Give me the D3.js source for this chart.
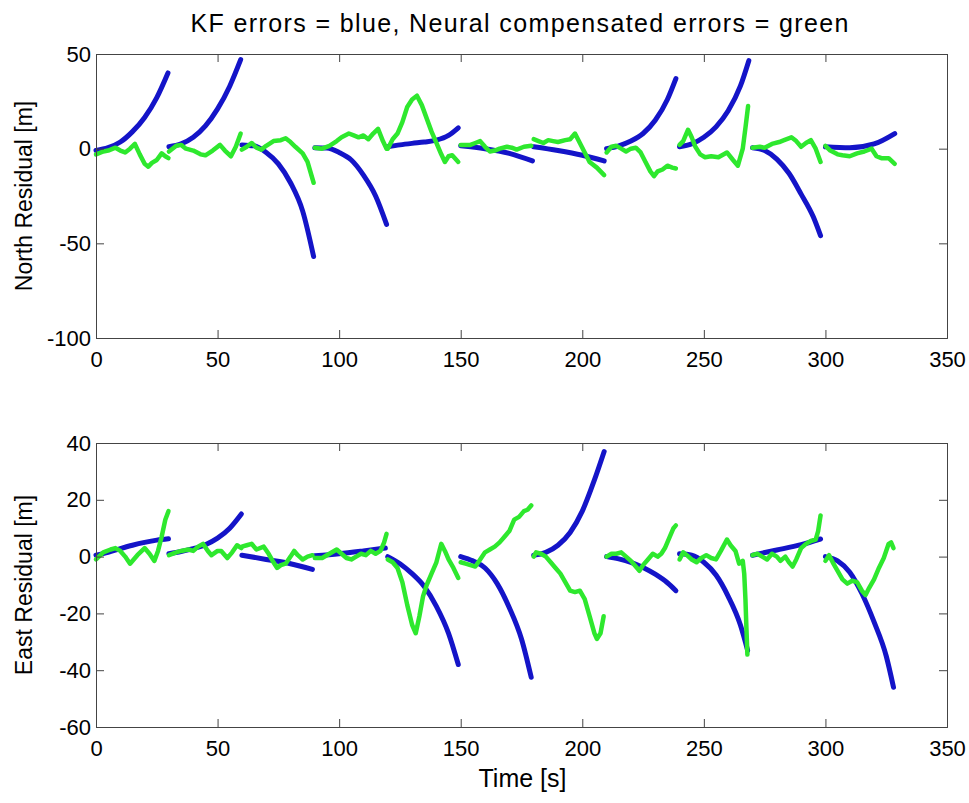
<!DOCTYPE html>
<html>
<head>
<meta charset="utf-8">
<script src="https://cdn.jsdelivr.net/npm/d3@7"></script>
<style>
  body { margin: 0; background: #fff; }
  text { font-family: "Liberation Sans", Arial, sans-serif; fill: #000; }
</style>
</head>
<body>
<div id="chart"></div>
<script>
// Each series is a list of 30 s segments, each segment a list of [time, residual] pairs
const northKF = [
  [[0,-1],[5,0.5],[10,3.5],[15,9],[20,16.5],[25,27],[29.6,40]],
  [[30,1],[35,2.5],[40,6],[45,12],[50,21],[55,33],[59.5,47]],
  [[60,2],[65,1.5],[70,-2],[75,-8],[80,-18],[85,-33],[89.5,-57]],
  [[90,0.5],[95,0.3],[100,-2],[105,-6],[110,-14],[115,-25],[119.5,-40]],
  [[120,1],[125,2],[130,2.8],[135,3.5],[140,4.5],[145,7],[149,11]],
  [[150,1.5],[160,0],[170,-2.5],[179.5,-6.5]],
  [[180,1],[190,-1],[200,-3.5],[209,-6.5]],
  [[210,0],[215,1.5],[220,4],[225,8],[230,15],[235,26],[238.5,37]],
  [[240,1],[245,2.5],[250,6],[255,11.5],[260,20],[265,33],[268.5,46.5]],
  [[270,0.5],[275,-1],[280,-5.5],[285,-13],[290,-24],[295,-36],[298,-46]],
  [[300,1],[310,0.5],[320,2.5],[328.5,8]]
];
const northNN = [
  [[0,-3],[3,-1.5],[5,-1],[8,0.5],[10,-1],[12,-2],[14,0],[16,2.5],[18,-3],[20,-8],[21.5,-9.5],[23,-7.5],[25,-6],[27,-2.5],[28.5,-4],[29.8,-5]],
  [[30,-1.5],[33,1.5],[35,2],[37,0],[40,-1],[43,-3],[45,-3.5],[48,-1],[51,2],[53,-1],[55.5,-4],[57.5,1],[59.5,8]],
  [[60,-0.5],[62,1],[64,3],[66,0.5],[68,-0.5],[70,1.5],[73,4],[76,4.5],[78,5.5],[80,3.5],[82,1],[85,-2.5],[87,-7],[89.5,-18]],
  [[90,0.5],[93,0],[96,1.5],[99,4],[101,6],[104,8],[106,7],[108,6],[110,7],[112,5],[114,8],[116,10.5],[118,4],[119.5,0]],
  [[120,0],[122,5],[124,8],[126,14],[128,22],[130,26],[132,28],[134,23],[136,16],[138,9],[140,3],[142,-3],[143.5,-7],[145,-4],[146.5,-3.5],[149,-7]],
  [[150,2],[154,2],[156,3],[158,4],[160,1],[162,-1.5],[164,-1],[166,0],[169,1],[171,0.5],[173,-0.5],[176,1],[179,1.5]],
  [[180,5],[182,4],[184,3],[186,4.5],[188,4],[190,3.5],[193,4.5],[195,5],[197,8],[199,3],[201,-2],[203,-7],[206,-10],[209,-14]],
  [[210,-2],[212,1],[214,1.5],[216,0],[218,-1.5],[220,0],[222,0.5],[224,-2],[226,-7],[228,-12],[229.5,-14.5],[231,-12],[233,-11],[235,-9],[237,-10],[238.5,-10.5]],
  [[240,2],[241.5,4],[243.5,10],[245,6],[246.5,1],[248.5,-3],[250.5,-4.5],[253,-4],[256,-4.5],[259.5,-2],[262,-6],[264,-9],[266,0],[267.2,12],[268.2,22.5]],
  [[270,0.5],[273,1],[275,0.5],[278,2.5],[281,3.5],[283,4.5],[286,6],[288,4],[290,1],[292,3],[294,4.5],[296,0],[298,-7]],
  [[300,1.5],[302,-1],[305,-3],[307,-3.5],[310,-4],[313,-2.5],[316,-1.5],[319,0],[321,-4],[323,-5],[326,-5],[328.5,-8]]
];
const eastKF = [
  [[0,0.5],[5,1.5],[10,2.8],[15,4],[20,5],[25,5.8],[29.8,6.3]],
  [[30,1],[35,1.8],[40,2.8],[45,4.2],[50,6.5],[55,10],[59.8,15]],
  [[60,0.5],[70,-1],[80,-2.5],[89,-4.5]],
  [[90,0.3],[100,1],[110,2],[119,3]],
  [[120,0],[125,-2.5],[130,-6],[135,-10.5],[140,-17.5],[145,-27],[149,-38]],
  [[150,0],[155,-1.5],[160,-4],[165,-9.5],[170,-18],[175,-29],[179,-42.5]],
  [[180,0.5],[185,1.5],[190,4],[195,8.5],[200,16],[205,27],[209,37]],
  [[210,0],[215,-0.8],[220,-2],[225,-3.8],[230,-6.2],[235,-9.2],[238.5,-12]],
  [[240,1],[245,0.5],[250,-2],[255,-6.5],[260,-14],[265,-24],[268,-33]],
  [[270,0.5],[280,2.3],[290,4.2],[298,6.2]],
  [[300,0],[305,-1.5],[310,-5.5],[315,-13],[320,-23],[325,-35],[328,-46]]
];
const eastNN = [
  [[0,-1],[3,1.5],[6,2.5],[8,3],[10,2],[12,0],[14,-2.5],[17,0.5],[20,3],[22,1],[24,-1.5],[25.5,2],[27,7],[28.5,13],[29.8,16]],
  [[30,0.5],[33,1.5],[35,2],[38,2.5],[40,2],[42,3.5],[44,4.5],[46,2],[47.5,0.5],[50,2],[51.5,2],[54,-0.5],[56,1.5],[58,4],[59.8,3]],
  [[60,3.5],[62,4],[64,4.5],[66,2.5],[69,3.5],[71,1],[73,-2],[74.5,-4],[76,-3],[78,-2.5],[80,0],[81.5,2],[83,0.5],[85,-1],[87,0],[89,0.5]],
  [[90,-0.5],[93,-0.5],[96,1],[99,2.5],[101,1],[103,-0.5],[105,-1],[107,0],[109,1],[111,0.5],[113,2],[115,1],[117,2],[118.5,5],[119.5,8]],
  [[120,-1],[122,-2],[124,-4],[126,-9],[128,-17],[130,-24],[131.5,-27],[133,-21],[134.5,-14],[136,-10],[138,-6],[140,-2],[142,4.5],[143.5,2],[145,-1],[147,-4],[149,-7.5]],
  [[150,-2],[152,-2.5],[154,-3],[156,-3.5],[158,-1],[160,1.5],[162,2.5],[164,3.5],[166,5],[168,7],[170,9],[172,13],[174,14],[176,16],[177.5,16.5],[179,18]],
  [[180,0],[181,1.5],[183,1],[185,0],[187,-2],[189,-4],[191,-6],[193,-9],[195,-12],[197,-12.5],[199,-12],[201,-15],[203,-21],[205,-27],[206,-29],[207.5,-27],[208.8,-21]],
  [[210,0],[212,1],[214,1],[216,1.5],[218,0],[220,-1.5],[222,-3.5],[223.5,-5],[225,-3],[227,-1],[229,1],[231,0],[232.5,1],[234,3],[236,7],[237.5,10],[238.5,11]],
  [[240,-1],[241.5,1.5],[243,0.5],[245,-1],[247,-2],[249,-0.5],[251,0.5],[253,-0.5],[255,-1],[257,2],[259.5,6],[261,4],[263,2],[264.5,-2.5],[266,-1.5],[266.6,-6],[267.1,-15],[267.5,-25],[267.9,-34.5]],
  [[270,0.5],[272,1],[274,0],[276,-1],[278,1],[280,0],[281.5,-1.5],[283.5,0],[285,-2],[286.5,-3.5],[288,-1],[290,3],[292,4.5],[294,5.5],[296,6],[297,9],[298,14.5]],
  [[300,-1.5],[301.5,0.5],[303,-2],[305,-5],[307,-8],[309,-9.5],[311,-8.5],[313,-9],[315,-12],[316.5,-13.5],[318,-11],[320,-8],[322,-4],[324,-0.5],[326,4.5],[327,5],[328,3]]
];

const timeTicks = [0, 50, 100, 150, 200, 250, 300, 350];
const northTicks = [50, 0, -50, -100];
const eastTicks = [40, 20, 0, -20, -40, -60];

const titleText = 'KF errors = blue, Neural compensated errors = green';

const width = 969, height = 803;
const plotLeft = 96, plotRight = 947;
const kfColor = '#1414c8', nnColor = '#2ee82e';

const svg = d3.select('#chart').append('svg')
  .attr('width', width)
  .attr('height', height);

const x = d3.scaleLinear().domain([0, 350]).range([plotLeft, plotRight]);

function drawPanel(cfg) {
  const y = d3.scaleLinear().domain(cfg.domain).range([cfg.bottom, cfg.top]);
  const g = svg.append('g');
  const h = cfg.bottom - cfg.top;

  // data first, frame on top
  const plot = g.append('g');
  const kfLine = d3.line().x(d => x(d[0])).y(d => y(d[1])).curve(d3.curveMonotoneX);
  const nnLine = d3.line().x(d => x(d[0])).y(d => y(d[1]));

  plot.selectAll('.kf')
    .data(cfg.kf)
    .join('path')
    .attr('class', 'kf')
    .attr('d', kfLine)
    .attr('fill', 'none')
    .attr('stroke', kfColor)
    .attr('stroke-width', 5)
    .attr('stroke-linecap', 'round');

  plot.selectAll('.nn')
    .data(cfg.nn)
    .join('path')
    .attr('class', 'nn')
    .attr('d', nnLine)
    .attr('fill', 'none')
    .attr('stroke', nnColor)
    .attr('stroke-width', 4.5)
    .attr('stroke-linecap', 'round')
    .attr('stroke-linejoin', 'round');

  // bottom / left axes with inward ticks
  const xAxis = g.append('g')
    .attr('transform', `translate(0,${cfg.bottom})`)
    .call(d3.axisBottom(x).tickValues(timeTicks).tickSize(-8).tickPadding(13).tickFormat(d => String(d)));
  g.append('g')
    .attr('transform', `translate(${plotLeft},0)`)
    .call(d3.axisLeft(y).tickValues(cfg.ticks).tickSize(-8).tickPadding(5).tickFormat(d => String(d)));

  // mirrored ticks on top / right
  g.append('g')
    .attr('transform', `translate(0,${cfg.top})`)
    .call(d3.axisTop(x).tickValues(timeTicks).tickSize(-8).tickFormat(''));
  g.append('g')
    .attr('transform', `translate(${plotRight},0)`)
    .call(d3.axisRight(y).tickValues(cfg.ticks).tickSize(-8).tickFormat(''));

  g.selectAll('.domain').attr('stroke', '#444');
  g.selectAll('.tick line').attr('stroke', '#444');
  g.selectAll('.tick text')
    .style('font-family', '"Liberation Sans", Arial, sans-serif')
    .style('font-size', '22px')
    .attr('fill', '#000');
  xAxis.selectAll('.tick text').attr('dy', '0.71em');

  g.append('text')
    .attr('transform', `translate(32,${cfg.top + h / 2}) rotate(-90)`)
    .attr('text-anchor', 'middle')
    .style('font-size', '23px')
    .text(cfg.label);
}

drawPanel({ top: 54, bottom: 338, domain: [-100, 50], ticks: northTicks, kf: northKF, nn: northNN, label: 'North Residual [m]' });
drawPanel({ top: 443, bottom: 727, domain: [-60, 40], ticks: eastTicks, kf: eastKF, nn: eastNN, label: 'East Residual [m]' });

svg.append('text')
  .attr('x', (plotLeft + plotRight) / 2 - 2)
  .attr('y', 32)
  .attr('text-anchor', 'middle')
  .style('font-size', '25px')
  .attr('textLength', 658)
  .text(titleText);

svg.append('text')
  .attr('x', (plotLeft + plotRight) / 2 + 1)
  .attr('y', 787)
  .attr('text-anchor', 'middle')
  .style('font-size', '25px')
  .text('Time [s]');
</script>
</body>
</html>
